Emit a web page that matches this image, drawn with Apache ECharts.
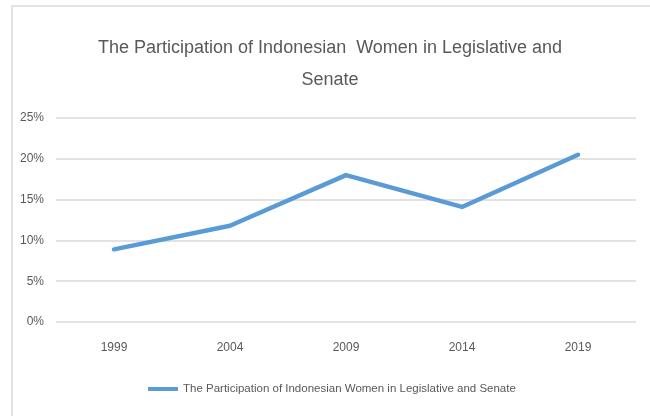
<!DOCTYPE html>
<html>
<head>
<meta charset="utf-8">
<script src="https://cdn.jsdelivr.net/npm/echarts@6/dist/echarts.min.js"></script>
<style>
  html, body { margin: 0; padding: 0; background: #fff; }
  #chart { width: 650px; height: 416px; }
</style>
</head>
<body>
<div id="chart"></div>
<script>
// data
var years = ['1999', '2004', '2009', '2014', '2019'];
var share = [0.089, 0.118, 0.180, 0.141, 0.205];
var seriesName = 'The Participation of Indonesian Women in Legislative and Senate';

var font = '"Liberation Sans", sans-serif';

var myChart = echarts.init(document.getElementById('chart'));

var option = {
  backgroundColor: '#fff',
  animation: false,
  title: {
    text: 'The Participation of Indonesian  Women in Legislative and\nSenate',
    left: 325,
    top: 27,
    textAlign: 'center',
    textStyle: {
      fontFamily: font,
      fontSize: 18,
      fontWeight: 'normal',
      color: '#595959',
      lineHeight: 32
    }
  },
  // chart frame (left + top edges visible)
  graphic: [{
    type: 'rect',
    shape: { x: 12, y: 6, width: 700, height: 500 },
    style: { fill: 'none', stroke: '#d9d9d9', lineWidth: 1.5 },
    silent: true
  }],
  grid: { left: 56, right: 14, top: 118, bottom: 94 },
  legend: {
    left: 143,
    top: 378,
    icon: 'rect',
    itemWidth: 30,
    itemHeight: 4,
    textStyle: { fontFamily: font, fontSize: 11.5, color: '#595959' },
    data: [seriesName]
  },
  xAxis: {
    type: 'category',
    data: years,
    boundaryGap: true,
    axisLine: { show: false },
    axisTick: { show: false },
    axisLabel: { margin: 20, fontFamily: font, fontSize: 12, color: '#595959' }
  },
  yAxis: {
    type: 'value',
    min: 0,
    max: 0.25,
    interval: 0.05,
    axisLine: { show: false },
    axisTick: { show: false },
    splitLine: { lineStyle: { color: '#d9d9d9', width: 1.5 } },
    axisLabel: {
      margin: 12,
      fontFamily: font,
      fontSize: 12,
      color: '#595959',
      formatter: function (v) { return Math.round(v * 100) + '%'; }
    }
  },
  series: [{
    name: seriesName,
    type: 'line',
    data: share,
    symbol: 'none',
    itemStyle: { color: '#5b9bd5' },
    lineStyle: { color: '#5b9bd5', width: 4.5, cap: 'round', join: 'round' }
  }]
};

myChart.setOption(option);
</script>
</body>
</html>
